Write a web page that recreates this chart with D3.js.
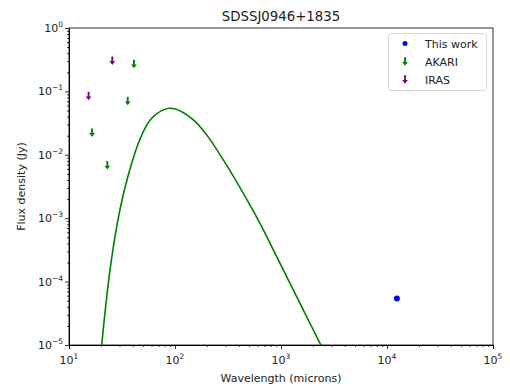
<!DOCTYPE html>
<html>
<head>
<meta charset="utf-8">
<script src="https://cdn.jsdelivr.net/npm/d3@7"></script>
<style>
  body { margin: 0; background: #fff; }
  svg { font-family: "DejaVu Sans", sans-serif; }
</style>
</head>
<body>
<svg width="510" height="391"></svg>
<script>
// values
var modelWl = [19.8, 20.35, 22.19, 24.37, 27.16, 30.28, 33.75, 39.04, 45.07, 52.12, 60.29, 72.2, 89.7, 115.7, 154.4, 206.2, 285.6, 441, 634, 911, 1306, 1877, 2334, 2500]
var modelFlux = [6.2e-6, 1.0e-5, 4.12e-5, 1.52e-4, 5.14e-4, 1.37e-3, 3.05e-3, 7.34e-3, 0.0152, 0.0262, 0.0377, 0.0479, 0.0541, 0.0479, 0.0336, 0.0190, 0.0083, 2.47e-3, 8.3e-4, 2.47e-4, 7.38e-5, 2.2e-5, 1.06e-5, 8.5e-6]

var thisWorkWl = [12400]
var thisWorkFlux = [5.4e-5]

var akariWl = [16.5, 23, 35.8, 41]
var akariFlux = [0.0223, 0.00683, 0.0706, 0.27]

var irasWl = [15.3, 25.6]
var irasFlux = [0.0846, 0.305]

var xTicks = [1e1, 1e2, 1e3, 1e4, 1e5]
var xTickExp = ['1', '2', '3', '4', '5']
var yTicks = [1, 1e-1, 1e-2, 1e-3, 1e-4, 1e-5]
var yTickExp = ['0', '\u22121', '\u22122', '\u22123', '\u22124', '\u22125']

var legendNames = ['This work', 'AKARI', 'IRAS']

var margin = {left: 69, right: 17, top: 28, bottom: 46}
var W = 510, H = 391
var svg = d3.select('svg')

var x = d3.scaleLog().domain([1e1, 1e5]).range([margin.left, W - margin.right])
var y = d3.scaleLog().domain([1e-5, 1]).range([H - margin.bottom, margin.top])

svg.append('clipPath').attr('id', 'clip')
    .append('rect')
    .attr('x', margin.left).attr('y', margin.top)
    .attr('width', W - margin.left - margin.right)
    .attr('height', H - margin.top - margin.bottom)

// axes
var xAxis = d3.axisBottom(x).tickSizeOuter(0)
    .tickValues(xTicks).tickFormat('').tickSize(4)
var xMinor = []
for (var e = 1; e < 5; e++) for (var m = 2; m < 10; m++) xMinor.push(m * Math.pow(10, e))
var yMinor = []
for (var e2 = -5; e2 < 0; e2++) for (var m2 = 2; m2 < 10; m2++) yMinor.push(m2 * Math.pow(10, e2))

var gx = svg.append('g').attr('transform', 'translate(0,' + (H - margin.bottom) + ')')
gx.call(xAxis)
gx.append('g').call(d3.axisBottom(x).tickValues(xMinor).tickFormat('').tickSize(2).tickSizeOuter(0))
    .select('.domain').remove()

var gy = svg.append('g').attr('transform', 'translate(' + margin.left + ',0)')
gy.call(d3.axisLeft(y).tickValues(yTicks).tickFormat('').tickSize(4).tickSizeOuter(0))
gy.append('g').call(d3.axisLeft(y).tickValues(yMinor).tickFormat('').tickSize(2).tickSizeOuter(0))
    .select('.domain').remove()

svg.selectAll('.tick line').attr('stroke', '#000').attr('stroke-width', 0.8)

// tick labels with superscripts
var xl = svg.append('g').selectAll('text').data(xTicks).enter().append('text')
    .attr('x', function(d) { return x(d) })
    .attr('y', H - margin.bottom + 19)
    .attr('text-anchor', 'middle')
    .attr('font-size', 11)
    .attr('fill', '#222')
xl.append('tspan').text('10')
xl.append('tspan').attr('dy', -5).attr('font-size', 7.5).text(function(d, i) { return xTickExp[i] })

var yl = svg.append('g').selectAll('text').data(yTicks).enter().append('text')
    .attr('x', margin.left - 6)
    .attr('y', function(d) { return y(d) + 4 })
    .attr('text-anchor', 'end')
    .attr('font-size', 11)
    .attr('fill', '#222')
yl.append('tspan').text('10')
yl.append('tspan').attr('dy', -5).attr('font-size', 7.5).text(function(d, i) { return yTickExp[i] })

// frame
svg.append('rect')
    .attr('x', margin.left).attr('y', margin.top)
    .attr('width', W - margin.left - margin.right)
    .attr('height', H - margin.top - margin.bottom)
    .attr('fill', 'none').attr('stroke', '#000').attr('stroke-width', 0.8)

// model curve
var model = modelWl.map(function(d, i) { return [d, modelFlux[i]] })
svg.append('path')
    .datum(model)
    .attr('clip-path', 'url(#clip)')
    .attr('fill', 'none')
    .attr('stroke', 'green')
    .attr('stroke-width', 1.6)
    .attr('d', d3.line()
        .x(function(d) { return x(d[0]) })
        .y(function(d) { return y(d[1]) })
        .curve(d3.curveCatmullRom.alpha(0.5)))

// upper-limit arrow marker
function arrow(g, cx, cy, color) {
    g.append('path')
        .attr('d', 'M' + cx + ',' + (cy - 4.2) + 'V' + (cy + 1))
        .attr('stroke', color).attr('stroke-width', 1.9)
    g.append('path')
        .attr('d', 'M' + (cx - 2.8) + ',' + (cy + 0.4) + 'L' + (cx + 2.8) + ',' + (cy + 0.4) + 'L' + cx + ',' + (cy + 4.3) + 'Z')
        .attr('fill', color)
}

var akari = svg.append('g')
akariWl.forEach(function(d, i) { arrow(akari, x(d), y(akariFlux[i]), 'green') })
var iras = svg.append('g')
irasWl.forEach(function(d, i) { arrow(iras, x(d), y(irasFlux[i]), 'purple') })

svg.append('g').selectAll('circle').data(thisWorkWl).enter().append('circle')
    .attr('cx', function(d) { return x(d) })
    .attr('cy', function(d, i) { return y(thisWorkFlux[i]) })
    .attr('r', 3)
    .attr('fill', 'blue')

// legend
var lg = svg.append('g')
lg.append('rect')
    .attr('x', 388.5).attr('y', 33.5).attr('width', 98).attr('height', 57).attr('rx', 2.5)
    .attr('fill', '#fff').attr('fill-opacity', 0.8).attr('stroke', '#ccc').attr('stroke-width', 0.8)
lg.append('circle').attr('cx', 405).attr('cy', 43.5).attr('r', 2.5).attr('fill', 'blue')
arrow(lg, 405, 61.5, 'green')
arrow(lg, 405, 79.5, 'purple')
lg.selectAll('text').data(legendNames).enter().append('text')
    .attr('x', 425)
    .attr('y', function(d, i) { return 47.5 + i * 18 })
    .attr('font-size', 11)
    .attr('fill', '#222')
    .text(function(d) { return d })

// title and axis labels
svg.append('text')
    .attr('x', (margin.left + W - margin.right) / 2).attr('y', 21)
    .attr('text-anchor', 'middle').attr('font-size', 13.3).attr('fill', '#222')
    .text('SDSSJ0946+1835')
svg.append('text')
    .attr('x', (margin.left + W - margin.right) / 2).attr('y', 382)
    .attr('text-anchor', 'middle').attr('font-size', 11).attr('fill', '#222')
    .text('Wavelength (microns)')
svg.append('text')
    .attr('transform', 'translate(25,' + ((margin.top + H - margin.bottom) / 2) + ') rotate(-90)')
    .attr('text-anchor', 'middle').attr('font-size', 11).attr('fill', '#222')
    .text('Flux density (Jy)')
</script>
</body>
</html>
